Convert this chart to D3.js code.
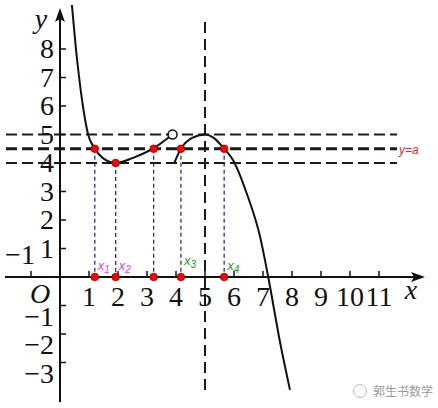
<!DOCTYPE html>
<html>
<head>
<meta charset="utf-8">
<script src="https://cdn.jsdelivr.net/npm/d3@7"></script>
<style>
  body { margin: 0; background: #fff; }
  svg { display: block; }
</style>
</head>
<body>
<div id="chart"></div>
<script>
// axis ticks
const xTicks = [1, 2, 3, 4, 5, 6, 7, 8, 9, 10, 11]
const yTicks = [-3, -2, -1, 1, 2, 3, 4, 5, 6, 7, 8]

// horizontal guide lines, y = a is the middle one
const hLines = [5, 4.5, 4]
const aValue = 4.5

// curve pieces
const branch1 = [[0.41, 9.55], [0.55, 8], [0.66, 7], [0.79, 6], [0.97, 5], [1.2, 4.5],
    [1.48, 4.17], [1.92, 4.0], [2.52, 4.18], [3.23, 4.52], [3.88, 5.0]]
const branch2 = [[3.94, 4.0], [4.17, 4.5], [4.54, 4.87], [5.0, 5.0], [5.3, 4.88], [5.66, 4.5],
    [5.97, 4.1], [6.44, 2.93], [6.9, 1.41], [7.18, 0], [7.59, -2.3], [7.93, -3.96]]
const openPoint = [3.88, 5.0]

// red marked points and their labels
const marks = [
    {x: 1.2,  y: 4.5, label: "1", color: "#e83ce8", dy: 0},
    {x: 1.92, y: 4.0, label: "2", color: "#e83ce8", dy: 0},
    {x: 3.23, y: 4.5, label: null},
    {x: 4.17, y: 4.5, label: "3", color: "#229922", dy: -5},
    {x: 5.66, y: 4.5, label: "4", color: "#229922", dy: 0}
]

const W = 438, H = 408
const svg = d3.select("#chart").append("svg").attr("width", W).attr("height", H)

const x = d3.scaleLinear().domain([-1, 11]).range([31, 379])
const y = d3.scaleLinear().domain([-3, 8]).range([362.5, 49])
const x0 = x(0), y0 = y(0)

function bigText(sel) {
    return sel.style("font-family", "'Liberation Serif'").style("font-size", "28px").attr("fill", "#111")
}

// horizontal dashed lines
svg.selectAll("line.h").data(hLines).join("line")
    .attr("x1", 6).attr("x2", 397)
    .attr("y1", d => y(d)).attr("y2", d => y(d))
    .attr("stroke", "#1a1a1a")
    .attr("stroke-width", d => d === aValue ? 3 : 2)
    .attr("stroke-dasharray", "11,5")

svg.append("text").text("y=a")
    .attr("x", 399).attr("y", y(aValue) + 5)
    .attr("fill", "#ff1a1a").style("font-family", "'Liberation Sans'")
    .style("font-style", "italic").style("font-size", "12px")

// vertical x = 5
svg.append("line")
    .attr("x1", x(5)).attr("x2", x(5)).attr("y1", 22).attr("y2", 396)
    .attr("stroke", "#1a1a1a").attr("stroke-width", 2).attr("stroke-dasharray", "11,6")

// blue drop lines
svg.selectAll("line.drop").data(marks).join("line")
    .attr("x1", d => x(d.x)).attr("x2", d => x(d.x))
    .attr("y1", d => y(d.y)).attr("y2", y0)
    .attr("stroke", "#1c1c88").attr("stroke-width", 1.2).attr("stroke-dasharray", "4,3")

// axes
svg.append("line").attr("x1", 5).attr("x2", 418).attr("y1", y0).attr("y2", y0)
    .attr("stroke", "#111").attr("stroke-width", 2)
svg.append("path").attr("d", `M425,${y0} L411,${y0 - 5} L414,${y0} L411,${y0 + 5} Z`).attr("fill", "#111")
svg.append("line").attr("x1", x0).attr("x2", x0).attr("y1", 402).attr("y2", 14)
    .attr("stroke", "#111").attr("stroke-width", 2)
svg.append("path").attr("d", `M${x0},8 L${x0 - 5},22 L${x0},19 L${x0 + 5},22 Z`).attr("fill", "#111")

// tick marks
svg.selectAll("line.xt").data([-1].concat(xTicks)).join("line")
    .attr("x1", d => x(d)).attr("x2", d => x(d)).attr("y1", y0).attr("y2", y0 - 6)
    .attr("stroke", "#111").attr("stroke-width", 1.5)
svg.selectAll("line.yt").data(yTicks).join("line")
    .attr("x1", x0).attr("x2", x0 + 6).attr("y1", d => y(d)).attr("y2", d => y(d))
    .attr("stroke", "#111").attr("stroke-width", 1.5)

// tick labels
bigText(svg.selectAll("text.xl").data(xTicks).join("text"))
    .attr("x", d => x(d)).attr("y", y0 + 29)
    .attr("text-anchor", "middle").text(d => d)
bigText(svg.selectAll("text.yl").data(yTicks).join("text"))
    .attr("x", 54).attr("y", d => y(d) + 9 + (d < 0 ? 11 : 0))
    .attr("text-anchor", "end").text(d => d < 0 ? "\u2212" + (-d) : d)
bigText(svg.append("text"))
    .attr("x", x(-1) - 11).attr("y", y0 - 13).attr("text-anchor", "middle").text("\u22121")

bigText(svg.append("text")).style("font-style", "italic")
    .attr("x", 40).attr("y", y0 + 26).attr("text-anchor", "middle").text("O")
bigText(svg.append("text")).style("font-style", "italic")
    .attr("x", 411).attr("y", y0 + 22).attr("text-anchor", "middle").text("x")
bigText(svg.append("text")).style("font-style", "italic")
    .attr("x", 41).attr("y", 28).attr("text-anchor", "middle").text("y")

// curve
const line = d3.line().x(d => x(d[0])).y(d => y(d[1])).curve(d3.curveMonotoneX)
svg.append("clipPath").attr("id", "clip").append("rect")
    .attr("x", 0).attr("y", 5).attr("width", W).attr("height", 388)
const g = svg.append("g").attr("clip-path", "url(#clip)")
g.append("path").attr("d", line(branch1)).attr("fill", "none").attr("stroke", "#111").attr("stroke-width", 2)
g.append("path").attr("d", line(branch2)).attr("fill", "none").attr("stroke", "#111").attr("stroke-width", 2)

svg.append("circle").attr("cx", x(openPoint[0])).attr("cy", y(openPoint[1])).attr("r", 4.5)
    .attr("fill", "#fff").attr("stroke", "#111").attr("stroke-width", 1.5)

// red points on curve and on axis
const pts = marks.flatMap(d => [[d.x, d.y], [d.x, 0]])
svg.selectAll("circle.pt").data(pts).join("circle")
    .attr("cx", d => x(d[0])).attr("cy", d => y(d[1])).attr("r", 3.8)
    .attr("fill", "#ff0000").attr("stroke", "#8b0000").attr("stroke-width", 0.8)

// x_i labels
const lab = svg.selectAll("text.xi").data(marks.filter(d => d.label)).join("text")
    .attr("x", d => x(d.x) + 3).attr("y", d => y0 - 7 + d.dy)
    .attr("fill", d => d.color).style("font-family", "'Liberation Sans'")
    .style("font-style", "italic").style("font-size", "13px")
lab.append("tspan").text("x")
lab.append("tspan").attr("dy", 3).style("font-size", "10px").text(d => d.label)

// watermark
svg.append("circle").attr("cx", 360).attr("cy", 391).attr("r", 6.5)
    .attr("fill", "none").attr("stroke", "#bbb").attr("stroke-width", 1)
svg.append("text").text("郭生书数学").attr("x", 373).attr("y", 396)
    .attr("fill", "#999").style("font-family", "'Noto Sans CJK SC'").style("font-size", "12px")
</script>
</body>
</html>
